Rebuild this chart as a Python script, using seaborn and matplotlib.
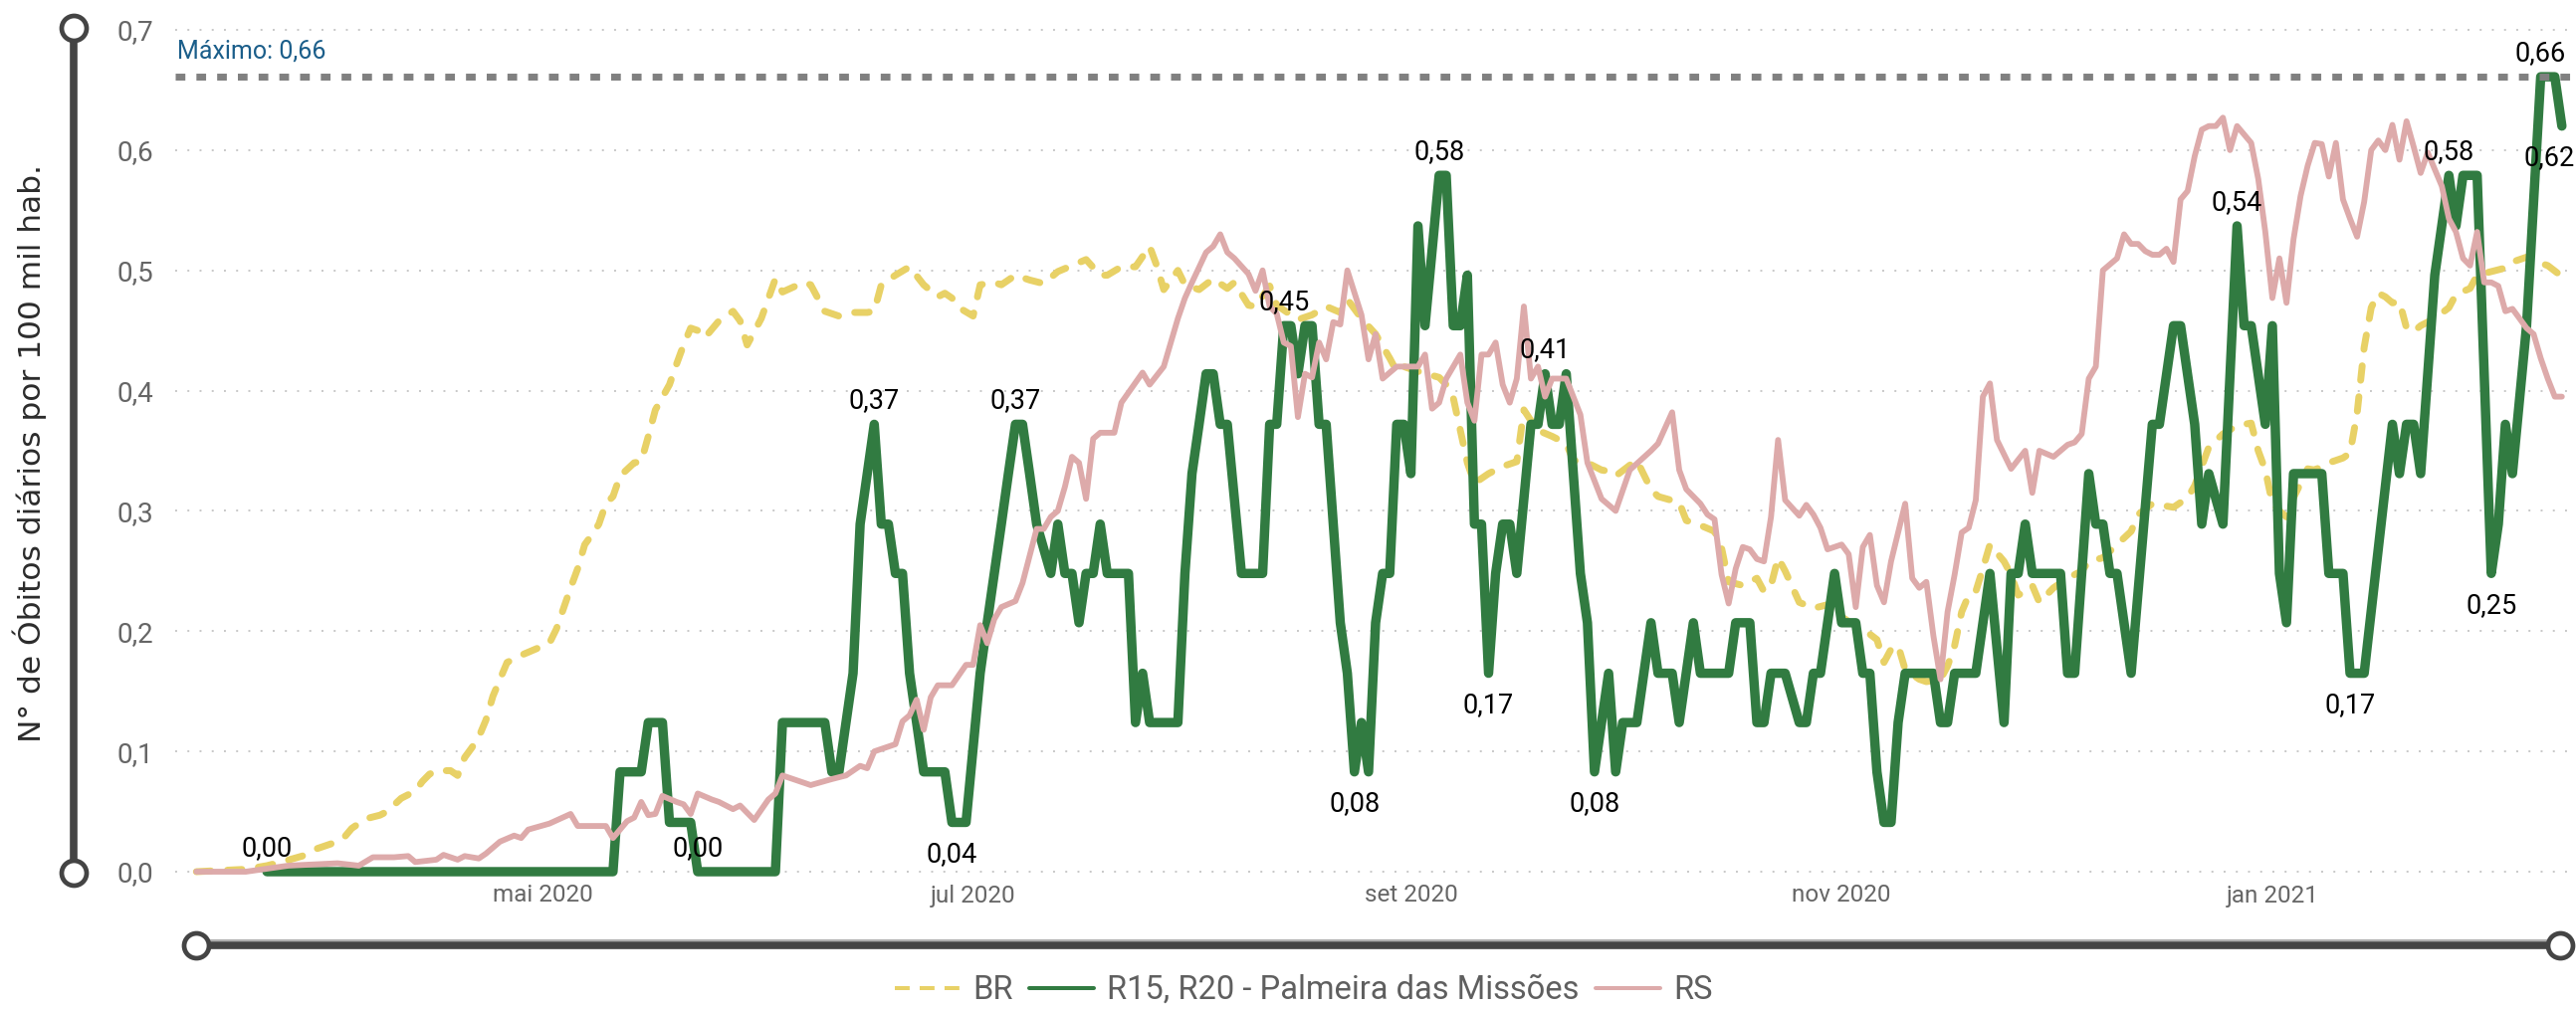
import pandas as pd
import matplotlib
matplotlib.use("Agg")
import matplotlib.pyplot as plt
import matplotlib.dates as mdates
from matplotlib.lines import Line2D
import seaborn as sns

# Óbitos diários (média móvel 7 dias) por 100 mil hab.
# dias contados a partir de 01/05/2020 (negativos = março/abril de 2020)
ORIGEM = "2020-05-01"

br_dias = [
    -49, -42, -39, -37, -34, -32, -29, -28, -27, -25,
    -23, -22, -20, -18, -17, -16, -15, -13, -12, -11,
    -10, -9, -8, -7, -6, -5, -3, -1, 1, 2,
    3, 4, 5, 6, 7, 8, 9, 10, 11, 13,
    14, 15, 16, 18, 19, 20, 21, 22, 23, 25,
    27, 28, 29, 31, 33, 34, 37, 38, 40, 42,
    44, 46, 47, 48, 50, 52, 54, 56, 57, 58,
    59, 61, 62, 64, 65, 67, 69, 71, 73, 75,
    77, 79, 80, 82, 84, 86, 87, 88, 90, 91,
    93, 95, 97, 98, 100, 101, 103, 104, 107, 109,
    111, 113, 114, 116, 118, 120, 121, 122, 124, 127,
    128, 129, 131, 132, 134, 136, 138, 139, 140, 141,
    143, 145, 146, 148, 150, 151, 152, 154, 155, 157,
    158, 161, 162, 164, 166, 167, 168, 170, 172, 173,
    174, 175, 176, 178, 180, 182, 183, 185, 187, 189,
    190, 191, 192, 193, 195, 196, 198, 199, 200, 201,
    202, 203, 204, 205, 207, 208, 209, 210, 211, 212,
    214, 216, 218, 219, 221, 223, 225, 226, 228, 230,
    231, 233, 234, 236, 238, 240, 242, 243, 244, 245,
    246, 247, 248, 250, 251, 253, 255, 256, 257, 258,
    259, 260, 261, 262, 263, 264, 265, 266, 268, 270,
    271, 273, 274, 276, 278, 279, 281, 283, 284, 286,
]
br_valores = [
    0.000, 0.002, 0.005, 0.008, 0.013, 0.019, 0.025, 0.029, 0.036, 0.044,
    0.047, 0.050, 0.061, 0.067, 0.075, 0.081, 0.084, 0.084, 0.080, 0.095,
    0.103, 0.112, 0.126, 0.146, 0.160, 0.174, 0.180, 0.185, 0.190, 0.202,
    0.219, 0.236, 0.252, 0.272, 0.280, 0.289, 0.306, 0.312, 0.329, 0.340,
    0.341, 0.362, 0.384, 0.405, 0.422, 0.438, 0.452, 0.450, 0.444, 0.458,
    0.466, 0.458, 0.438, 0.460, 0.493, 0.482, 0.490, 0.488, 0.466, 0.462,
    0.465, 0.465, 0.466, 0.488, 0.496, 0.503, 0.488, 0.478, 0.481, 0.477,
    0.469, 0.462, 0.488, 0.490, 0.488, 0.496, 0.492, 0.489, 0.499, 0.504,
    0.509, 0.496, 0.496, 0.503, 0.503, 0.520, 0.504, 0.484, 0.500, 0.488,
    0.484, 0.493, 0.485, 0.490, 0.471, 0.470, 0.487, 0.471, 0.459, 0.463,
    0.470, 0.465, 0.476, 0.460, 0.447, 0.427, 0.416, 0.420, 0.416, 0.411,
    0.405, 0.394, 0.340, 0.323, 0.331, 0.337, 0.341, 0.384, 0.375, 0.367,
    0.362, 0.356, 0.342, 0.340, 0.334, 0.333, 0.329, 0.338, 0.342, 0.318,
    0.312, 0.307, 0.292, 0.288, 0.283, 0.269, 0.241, 0.238, 0.244, 0.233,
    0.238, 0.261, 0.250, 0.224, 0.219, 0.222, 0.216, 0.208, 0.202, 0.193,
    0.174, 0.185, 0.188, 0.168, 0.160, 0.158, 0.160, 0.171, 0.188, 0.216,
    0.230, 0.233, 0.252, 0.272, 0.258, 0.247, 0.230, 0.233, 0.238, 0.224,
    0.236, 0.244, 0.250, 0.258, 0.261, 0.272, 0.283, 0.297, 0.306, 0.304,
    0.303, 0.311, 0.321, 0.353, 0.364, 0.371, 0.373, 0.350, 0.334, 0.306,
    0.300, 0.295, 0.311, 0.335, 0.334, 0.340, 0.344, 0.348, 0.381, 0.436,
    0.469, 0.481, 0.478, 0.473, 0.474, 0.452, 0.449, 0.454, 0.460, 0.469,
    0.480, 0.485, 0.496, 0.499, 0.502, 0.507, 0.511, 0.506, 0.504, 0.495,
]

r15_dias = [
    -39, 10, 11, 14, 15, 17, 18, 21, 22, 33,
    34, 40, 41, 42, 44, 45, 47, 48, 49, 50,
    51, 52, 54, 57, 58, 60, 62, 63, 64, 65,
    66, 67, 68, 69, 70, 72, 73, 74, 75, 76,
    77, 78, 79, 80, 83, 84, 85, 86, 90, 91,
    92, 93, 94, 95, 96, 97, 99, 102, 103, 104,
    105, 106, 107, 108, 109, 110, 111, 113, 114, 115,
    116, 117, 118, 119, 120, 121, 122, 123, 124, 125,
    127, 128, 129, 130, 131, 132, 133, 134, 135, 136,
    137, 138, 140, 141, 142, 143, 144, 145, 147, 148,
    149, 151, 152, 153, 155, 157, 158, 160, 161, 163,
    164, 168, 169, 171, 172, 173, 174, 176, 178, 179,
    180, 181, 183, 184, 186, 187, 188, 189, 190, 191,
    192, 193, 197, 198, 199, 200, 203, 205, 207, 208,
    209, 210, 211, 215, 216, 217, 219, 220, 221, 222,
    223, 225, 228, 229, 231, 232, 234, 235, 236, 238,
    240, 241, 242, 244, 245, 246, 247, 248, 252, 253,
    255, 256, 258, 262, 263, 264, 265, 266, 268, 270,
    271, 272, 274, 276, 277, 278, 279, 281, 283, 285,
    286,
]
r15_valores = [
    0.0, 0.0, 0.083, 0.083, 0.124, 0.124, 0.041, 0.041, 0.0, 0.0,
    0.124, 0.124, 0.083, 0.083, 0.165, 0.289, 0.372, 0.289, 0.289, 0.248,
    0.248, 0.165, 0.083, 0.083, 0.041, 0.041, 0.165, 0.207, 0.248, 0.289,
    0.331, 0.372, 0.372, 0.331, 0.289, 0.248, 0.289, 0.248, 0.248, 0.207,
    0.248, 0.248, 0.289, 0.248, 0.248, 0.124, 0.165, 0.124, 0.124, 0.248,
    0.331, 0.372, 0.414, 0.414, 0.372, 0.372, 0.248, 0.248, 0.372, 0.372,
    0.454, 0.454, 0.414, 0.454, 0.454, 0.372, 0.372, 0.207, 0.165, 0.083,
    0.124, 0.083, 0.207, 0.248, 0.248, 0.372, 0.372, 0.331, 0.537, 0.454,
    0.579, 0.579, 0.454, 0.454, 0.496, 0.289, 0.289, 0.165, 0.248, 0.289,
    0.289, 0.248, 0.372, 0.372, 0.414, 0.372, 0.372, 0.414, 0.248, 0.207,
    0.083, 0.165, 0.083, 0.124, 0.124, 0.207, 0.165, 0.165, 0.124, 0.207,
    0.165, 0.165, 0.207, 0.207, 0.124, 0.124, 0.165, 0.165, 0.124, 0.124,
    0.165, 0.165, 0.248, 0.207, 0.207, 0.165, 0.165, 0.083, 0.041, 0.041,
    0.124, 0.165, 0.165, 0.124, 0.124, 0.165, 0.165, 0.248, 0.124, 0.248,
    0.248, 0.289, 0.248, 0.248, 0.165, 0.165, 0.331, 0.289, 0.289, 0.248,
    0.248, 0.165, 0.372, 0.372, 0.454, 0.454, 0.372, 0.289, 0.331, 0.289,
    0.537, 0.454, 0.454, 0.372, 0.454, 0.248, 0.207, 0.331, 0.331, 0.248,
    0.248, 0.165, 0.165, 0.372, 0.331, 0.372, 0.372, 0.331, 0.496, 0.579,
    0.537, 0.579, 0.579, 0.248, 0.289, 0.372, 0.331, 0.454, 0.661, 0.661,
    0.620,
]

rs_dias = [
    -49, -42, -36, -29, -26, -24, -21, -19, -18, -15,
    -14, -12, -11, -9, -8, -6, -4, -3, -2, 1,
    4, 5, 9, 10, 12, 13, 14, 15, 16, 17,
    19, 20, 21, 22, 24, 25, 27, 28, 30, 32,
    33, 34, 38, 41, 43, 45, 46, 47, 49, 50,
    51, 52, 53, 54, 55, 56, 58, 60, 61, 62,
    63, 64, 65, 67, 68, 70, 71, 72, 73, 74,
    75, 76, 77, 78, 79, 81, 82, 85, 86, 88,
    90, 91, 92, 94, 95, 96, 97, 98, 100, 101,
    102, 103, 104, 105, 106, 107, 108, 109, 110, 111,
    112, 113, 114, 116, 117, 118, 119, 121, 122, 124,
    125, 126, 127, 128, 130, 131, 132, 133, 134, 135,
    136, 137, 138, 139, 140, 141, 142, 143, 145, 147,
    148, 150, 151, 152, 154, 157, 158, 160, 161, 162,
    164, 165, 166, 167, 168, 169, 170, 171, 172, 173,
    174, 175, 176, 178, 179, 180, 181, 182, 184, 185,
    186, 187, 188, 189, 190, 191, 193, 194, 195, 196,
    197, 198, 199, 200, 201, 202, 203, 204, 205, 206,
    208, 210, 211, 212, 214, 216, 217, 218, 219, 220,
    221, 223, 224, 225, 226, 227, 228, 229, 230, 231,
    232, 233, 234, 235, 236, 237, 238, 239, 240, 242,
    243, 244, 245, 246, 247, 248, 249, 250, 251, 252,
    253, 254, 255, 256, 257, 258, 259, 260, 261, 262,
    263, 264, 265, 266, 267, 269, 270, 271, 272, 273,
    274, 275, 276, 277, 278, 279, 280, 281, 282, 283,
    284, 285, 286,
]
rs_valores = [
    0.000, 0.000, 0.005, 0.007, 0.005, 0.012, 0.012, 0.013, 0.008, 0.010,
    0.014, 0.010, 0.013, 0.011, 0.015, 0.025, 0.030, 0.028, 0.035, 0.040,
    0.048, 0.038, 0.038, 0.028, 0.042, 0.045, 0.058, 0.047, 0.048, 0.063,
    0.058, 0.056, 0.048, 0.065, 0.060, 0.058, 0.052, 0.055, 0.043, 0.060,
    0.065, 0.080, 0.072, 0.077, 0.080, 0.088, 0.086, 0.100, 0.104, 0.106,
    0.125, 0.130, 0.143, 0.118, 0.145, 0.155, 0.155, 0.172, 0.172, 0.205,
    0.190, 0.210, 0.220, 0.225, 0.240, 0.285, 0.285, 0.295, 0.300, 0.320,
    0.345, 0.340, 0.310, 0.360, 0.365, 0.365, 0.390, 0.415, 0.405, 0.420,
    0.460, 0.477, 0.490, 0.515, 0.520, 0.530, 0.515, 0.510, 0.497, 0.483,
    0.500, 0.470, 0.464, 0.440, 0.437, 0.378, 0.414, 0.411, 0.440, 0.426,
    0.457, 0.455, 0.500, 0.463, 0.426, 0.447, 0.410, 0.420, 0.420, 0.420,
    0.430, 0.385, 0.390, 0.410, 0.430, 0.390, 0.375, 0.430, 0.430, 0.440,
    0.405, 0.390, 0.410, 0.470, 0.410, 0.420, 0.395, 0.410, 0.410, 0.380,
    0.340, 0.310, 0.305, 0.300, 0.334, 0.350, 0.356, 0.382, 0.334, 0.318,
    0.306, 0.297, 0.293, 0.247, 0.223, 0.252, 0.270, 0.268, 0.260, 0.258,
    0.295, 0.359, 0.309, 0.296, 0.305, 0.297, 0.286, 0.268, 0.272, 0.264,
    0.220, 0.270, 0.280, 0.238, 0.224, 0.258, 0.306, 0.244, 0.236, 0.241,
    0.196, 0.160, 0.216, 0.247, 0.282, 0.286, 0.309, 0.395, 0.406, 0.359,
    0.335, 0.350, 0.315, 0.350, 0.345, 0.355, 0.357, 0.364, 0.410, 0.420,
    0.500, 0.510, 0.530, 0.522, 0.522, 0.516, 0.513, 0.513, 0.518, 0.507,
    0.559, 0.566, 0.595, 0.617, 0.620, 0.620, 0.627, 0.600, 0.620, 0.606,
    0.576, 0.532, 0.477, 0.510, 0.473, 0.526, 0.562, 0.587, 0.606, 0.605,
    0.578, 0.606, 0.559, 0.543, 0.528, 0.557, 0.600, 0.608, 0.600, 0.621,
    0.592, 0.624, 0.603, 0.581, 0.598, 0.570, 0.543, 0.532, 0.510, 0.504,
    0.532, 0.490, 0.490, 0.487, 0.466, 0.468, 0.460, 0.452, 0.447, 0.427,
    0.410, 0.395, 0.395,
]

# pontos rotulados da série regional
rotulo_dias = [-39, 22, 47, 58, 67, 105, 115, 127, 134, 142, 149, 240, 256, 270, 276, 283, 286]
rotulo_pos = ["acima", "acima", "acima", "abaixo", "acima", "acima", "abaixo", "acima", "abaixo",
              "acima", "abaixo", "acima", "abaixo", "acima", "abaixo", "acima", "abaixo"]

meses_ticks = ["2020-05-01", "2020-07-01", "2020-09-01", "2020-11-01", "2021-01-01"]
meses_rotulos = ["mai 2020", "jul 2020", "set 2020", "nov 2020", "jan 2021"]
y_ticks = [0.0, 0.1, 0.2, 0.3, 0.4, 0.5, 0.6, 0.7]

NOME_BR = "BR"
NOME_R15 = "R15, R20 - Palmeira das Missões"
NOME_RS = "RS"
COR_BR = "#E8D166"
COR_R15 = "#317B41"
COR_RS = "#DDAAAA"
COR_ESCURO = "#444444"

assert len(br_dias) == len(br_valores)
assert len(r15_dias) == len(r15_valores)
assert len(rs_dias) == len(rs_valores)


def monta_df(dias, valores, nome):
    datas = pd.Timestamp(ORIGEM) + pd.to_timedelta(dias, unit="D")
    return pd.DataFrame({"data": datas, "valor": valores, "serie": nome})


def para_data(dia):
    return mdates.date2num(pd.Timestamp(ORIGEM) + pd.Timedelta(days=dia))


sns.set_style("white")
plt.rcParams["font.family"] = ["Roboto", "DejaVu Sans"]

W, H = 2588, 1014
fig = plt.figure(figsize=(W / 100, H / 100), dpi=100)


def fx(px):
    return px / W


def fy(py):
    return 1 - py / H


ax = fig.add_axes([fx(176), fy(876), 1 - fx(176), (876 - 30) / H])

df_br = monta_df(br_dias, br_valores, NOME_BR)
df_r15 = monta_df(r15_dias, r15_valores, NOME_R15)
df_rs = monta_df(rs_dias, rs_valores, NOME_RS)

sns.lineplot(data=df_br, x="data", y="valor", ax=ax, color=COR_BR, lw=5,
             linestyle=(0, (2.1, 2.4)), dash_capstyle="round", errorbar=None,
             legend=False, clip_on=False, zorder=3)
sns.lineplot(data=df_r15, x="data", y="valor", ax=ax, color=COR_R15, lw=6.8,
             solid_joinstyle="round", solid_capstyle="round", errorbar=None,
             legend=False, clip_on=False, zorder=4)
sns.lineplot(data=df_rs, x="data", y="valor", ax=ax, color=COR_RS, lw=4.2,
             solid_joinstyle="round", errorbar=None, legend=False,
             clip_on=False, zorder=5)

ax.set_xlim(para_data(-52), para_data(288))
ax.set_ylim(0, 0.7)

# grade pontilhada
for v in y_ticks:
    ax.axhline(v, color="#C8C8C8", lw=1.4, linestyle=(0, (1, 5.3)),
               zorder=0, clip_on=False)

# linha de máximo
maximo = max(r15_valores)
ax.axhline(maximo, color="#808080", lw=5, linestyle=(0, (1.4, 1.6)),
           zorder=6, clip_on=False)
fig.text(fx(178), fy(52), f"Máximo: {maximo:.2f}".replace(".", ","),
         ha="left", va="center", fontsize=18, color="#1B5E8A")

# rótulos de dados
valor_r15 = dict(zip(r15_dias, r15_valores))
for d, pos in zip(rotulo_dias, rotulo_pos):
    v = valor_r15[d]
    dy = 17 if pos == "acima" else -23
    dx = -9 if d == r15_dias[-1] else 0
    ax.annotate(f"{v:.2f}".replace(".", ","), (para_data(d), v),
                xytext=(dx, dy), textcoords="offset points", ha="center",
                va="center", fontsize=19.5, color="black",
                annotation_clip=False, zorder=7)

for s in ax.spines.values():
    s.set_visible(False)
ax.set_xlabel("")
ax.set_ylabel("")
ax.set_yticks(y_ticks)
ax.set_yticklabels([f"{v:.1f}".replace(".", ",") for v in y_ticks])
ax.set_xticks([mdates.date2num(pd.Timestamp(t)) for t in meses_ticks])
ax.set_xticklabels(meses_rotulos)
ax.tick_params(axis="y", length=0, pad=16, labelsize=20, labelcolor="#666666")
ax.tick_params(axis="x", length=0, pad=9, labelsize=17.5, labelcolor="#666666")
ax.grid(False)

# título do eixo y
fig.text(fx(30), fy(455), "N° de Óbitos diários por 100 mil hab.", rotation=90,
         ha="center", va="center", fontsize=22.5, color="#2B2B2B",
         family="DejaVu Sans")

# régua vertical à esquerda
fig.add_artist(Line2D([fx(74), fx(74)], [fy(28), fy(877)], color=COR_ESCURO,
                      lw=5.5, solid_capstyle="butt"))
# barra de rolagem inferior
fig.add_artist(Line2D([fx(196), fx(2572)], [fy(945), fy(945)], color="#A0A0A0",
                      lw=1.2))
fig.add_artist(Line2D([fx(196), fx(2572)], [fy(950), fy(950)], color=COR_ESCURO,
                      lw=5.5, solid_capstyle="butt"))
for cx, cy in [(74, 28), (74, 877), (197, 950), (2572, 950)]:
    fig.add_artist(Line2D([fx(cx)], [fy(cy)], marker="o", ms=18, mew=3.4,
                          mfc="white", mec=COR_ESCURO, lw=0))

# legenda
handles = [
    Line2D([], [], color=COR_BR, lw=2.9, linestyle=(0, (3.7, 2.5)),
           dash_capstyle="butt"),
    Line2D([], [], color=COR_R15, lw=2.9),
    Line2D([], [], color=COR_RS, lw=2.9),
]
fig.legend(handles, [NOME_BR, NOME_R15, NOME_RS], loc="center",
           bbox_to_anchor=(fx(1310), fy(995)), ncol=3, frameon=False,
           fontsize=23.5, handlelength=2.0, handletextpad=0.4,
           columnspacing=0.5, labelcolor="#5F5F5F")

fig.savefig("out.png", dpi=100)
